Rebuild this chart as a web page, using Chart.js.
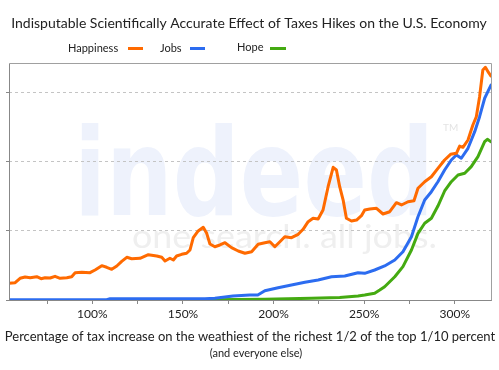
<!DOCTYPE html>
<html>
<head>
<meta charset="utf-8">
<script src="https://cdn.jsdelivr.net/npm/chart.js@4.4.1/dist/chart.umd.min.js"></script>
<style>
html, body { margin: 0; padding: 0; background: #fff; }
canvas { display: block; }
</style>
</head>
<body>
<canvas id="taxChart" width="499" height="370"></canvas>
<script>
// x = tax increase in %, y = made up index (grid every 100)
var happinessX = [54.1, 57.4, 60.1, 62.9, 65.7, 69.3, 71.7, 73.9, 76.7, 79.4, 82.2, 85.9, 88.6, 90.5, 94.2, 98.7,
    101.5, 105.2, 107.9, 110.7, 113.5, 116.2, 119.0, 121.7, 126.3, 130.9, 135.5, 138.3, 140.1, 142.8, 144.7, 146.5,
    149.3, 152.0, 153.9, 155.7, 158.4, 161.2, 163.1, 164.9, 167.6, 170.4, 173.2, 176.8, 180.5, 184.2, 187.9, 191.5,
    195.2, 198.0, 200.7, 203.5, 206.2, 209.9, 213.6, 216.3, 219.1, 221.8, 224.6, 227.3, 230.1, 232.9, 234.7, 236.5,
    238.4, 240.2, 243.0, 245.8, 248.5, 250.3, 253.1, 256.8, 260.4, 264.1, 267.8, 270.6, 274.2, 277.5, 279.7, 283.4,
    287.1, 290.7, 294.4, 297.7, 300.9, 302.7, 304.5, 307.3, 310.0, 311.9, 313.7, 315.5, 316.9, 318.7, 320];
var happinessY = [24.1, 25.0, 31.3, 33.2, 32.2, 33.6, 30.7, 32.2, 31.7, 34.2, 31.3, 32.2, 33.6, 39.4, 40.0, 39.4,
    43.3, 49.5, 47.2, 44.3, 49.1, 55.8, 61.6, 59.6, 60.2, 65.4, 63.5, 61.6, 56.3, 60.2, 57.7, 63.5,
    65.9, 67.4, 72.2, 89.9, 99.6, 104.9, 96.2, 80.8, 76.9, 79.4, 82.7, 75.5, 70.7, 67.4, 69.7, 80.4,
    82.7, 84.1, 76.9, 84.1, 91.3, 89.9, 94.8, 102.0, 113.0, 117.9, 116.9, 129.9, 163.5, 191.5, 187.6, 163.5,
    144.3, 117.9, 114.0, 115.4, 121.6, 129.9, 131.3, 132.3, 124.1, 127.4, 140.4, 137.1, 141.8, 143.3, 161.2, 170.7,
    177.9, 190.0, 202.0, 210.2, 211.7, 222.2, 220.3, 230.9, 252.5, 264.5, 293.4, 331.9, 335.8, 328.0, 323.2];

var jobsX = [54.1, 107.9, 109.8, 162.1, 167.6, 173.2, 177.6, 186.9, 191.3, 195.2, 202.5, 209.9, 217.3, 224.6, 232.0,
    239.3, 246.6, 250.3, 255.8, 261.3, 266.9, 271.4, 276.1, 279.7, 283.4, 287.1, 290.7, 294.4, 298.1, 300.9, 303.6,
    307.3, 311.0, 313.7, 316.5, 320];
var jobsY = [0.4, 0.4, 1.9, 1.9, 2.5, 4.3, 5.8, 7.2, 7.2, 13.4, 17.7, 21.6, 25.5, 28.9, 33.6,
    34.6, 39.4, 38.5, 43.3, 49.1, 57.7, 69.7, 91.3, 120.2, 144.3, 156.3, 170.7, 187.6, 202.0, 209.2, 204.5,
    218.9, 242.9, 264.5, 291.1, 310.2];

var hopeX = [163.2, 195.2, 220.9, 236.5, 246.6, 250.3, 255.8, 258.6, 261.3, 266.9, 271.4, 276.1, 279.7, 283.4, 287.1,
    290.7, 294.4, 298.1, 301.8, 305.5, 309.1, 312.8, 316.5, 318.0, 320];
var hopeY = [0.3, 1.0, 2.5, 3.6, 5.8, 7.2, 9.7, 14.4, 19.2, 33.6, 48.1, 72.2, 96.2, 110.7, 117.9,
    135.6, 157.3, 170.7, 180.4, 182.8, 192.4, 206.8, 228.4, 231.9, 228.4];

var xTicks = [75, 100, 125, 150, 175, 200, 225, 250, 275, 300];
var yTicks = [0, 100, 200, 300];

var seriesNames = ['Happiness', 'Jobs', 'Hope'];
var seriesColors = ['#ff6a00', '#2c6cf0', '#44aa11'];

function toPoints(xs, ys) {
    return xs.map(function(x, i) { return { x: x, y: ys[i] }; });
}

// faint "indeed" watermark behind the plot
var watermark = {
    id: 'watermark',
    beforeDraw: function(chart) {
        var ctx = chart.ctx;
        ctx.save();
        ctx.fillStyle = '#eef2fc';
        ctx.font = 'bold 122px "DejaVu Sans"';
        ctx.textBaseline = 'alphabetic';
        var w = ctx.measureText('indeed').width;
        ctx.translate(74, 215);
        ctx.scale(360 / w, 1);
        ctx.fillText('indeed', 0, 0);
        ctx.restore();
        ctx.save();
        ctx.fillStyle = '#efefef';
        ctx.font = '32px Lato';
        var w2 = ctx.measureText('one search. all jobs.').width;
        ctx.translate(132, 248);
        ctx.scale(305 / w2, 1);
        ctx.fillText('one search. all jobs.', 0, 0);
        ctx.restore();
        ctx.save();
        ctx.fillStyle = '#e4e4e4';
        ctx.font = '10px Lato';
        ctx.fillText('TM', 443, 131);
        ctx.restore();
    }
};

// box, titles and the legend (text first, then the line sample)
var decorations = {
    id: 'decorations',
    afterDatasetsDraw: function(chart) {
        var ctx = chart.ctx;
        var a = chart.chartArea;
        var l = Math.round(a.left) + 0.5, t = Math.round(a.top) + 0.5;
        var r = Math.round(a.right) + 0.5, b = Math.round(a.bottom) + 0.5;
        ctx.save();
        ctx.lineWidth = 1;
        ctx.strokeStyle = '#a0a0a0';
        ctx.beginPath();
        ctx.moveTo(l, t);
        ctx.lineTo(r, t);
        ctx.lineTo(r, b);
        ctx.stroke();
        ctx.strokeStyle = '#888';
        ctx.beginPath();
        ctx.moveTo(l, t);
        ctx.lineTo(l, b);
        ctx.stroke();
        ctx.restore();
    },
    afterDraw: function(chart) {
        var ctx = chart.ctx;
        ctx.save();
        ctx.fillStyle = '#222';
        ctx.textBaseline = 'middle';
        ctx.textAlign = 'center';
        ctx.font = '14px Lato';
        ctx.fillText('Indisputable Scientifically Accurate Effect of Taxes Hikes on the U.S. Economy', 249, 23);
        ctx.font = '13px Lato';
        ctx.fillText('Percentage of tax increase on the weathiest of the richest 1/2 of the top 1/10 percent', 250, 337);
        ctx.font = '11px Lato';
        ctx.fillText('(and everyone else)', 256, 353);

        var legendX = [68, 160, 237];
        var legendLine = [[128, 143], [190, 205], [270, 286]];
        ctx.textAlign = 'left';
        ctx.font = '11px Lato';
        seriesNames.forEach(function(name, i) {
            ctx.fillStyle = '#222';
            ctx.fillText(name, legendX[i], i === 2 ? 47 : 48);
            ctx.strokeStyle = seriesColors[i];
            ctx.lineWidth = 3;
            ctx.beginPath();
            ctx.moveTo(legendLine[i][0], 48.5);
            ctx.lineTo(legendLine[i][1], 48.5);
            ctx.stroke();
        });
        ctx.restore();
    }
};

var ctx = document.getElementById('taxChart').getContext('2d');
var taxChart = new Chart(ctx, {
    type: 'line',
    data: {
        datasets: [{
            label: seriesNames[0],
            data: toPoints(happinessX, happinessY),
            borderColor: seriesColors[0],
            borderWidth: 3
        }, {
            label: seriesNames[1],
            data: toPoints(jobsX, jobsY),
            borderColor: seriesColors[1],
            borderWidth: 3
        }, {
            label: seriesNames[2],
            data: toPoints(hopeX, hopeY),
            borderColor: seriesColors[2],
            borderWidth: 3
        }]
    },
    options: {
        responsive: false,
        animation: false,
        events: [],
        elements: {
            point: { radius: 0 },
            line: { tension: 0, borderJoinStyle: 'round', borderCapStyle: 'round' }
        },
        layout: { padding: { top: 63, right: 8, bottom: 50, left: 0 } },
        plugins: {
            legend: { display: false },
            title: { display: false },
            tooltip: { enabled: false }
        },
        scales: {
            x: {
                type: 'linear',
                min: 54,
                max: 320,
                afterFit: function(s) { s.height = 20; },
                afterBuildTicks: function(s) {
                    s.ticks = xTicks.map(function(v) { return { value: v }; });
                },
                grid: {
                    drawOnChartArea: false,
                    drawTicks: true,
                    tickLength: 4,
                    tickColor: '#888'
                },
                border: { color: '#888', width: 1 },
                ticks: {
                    autoSkip: false,
                    maxRotation: 0,
                    padding: 3,
                    color: '#222',
                    font: { family: 'Lato', size: 12 },
                    callback: function(v) { return v % 50 === 0 ? v + '%' : ''; }
                }
            },
            y: {
                min: 0,
                max: 342,
                afterFit: function(s) { s.width = 9; },
                afterBuildTicks: function(s) {
                    s.ticks = yTicks.map(function(v) { return { value: v }; });
                },
                grid: {
                    color: '#c4c4c4',
                    tickLength: 3,
                    tickColor: '#888',
                    tickBorderDash: []
                },
                // dash here styles the grid lines; the solid left edge is drawn by the plugin
                border: { display: false, dash: [3, 3] },
                ticks: { display: false }
            }
        }
    },
    plugins: [watermark, decorations]
});
</script>
</body>
</html>
